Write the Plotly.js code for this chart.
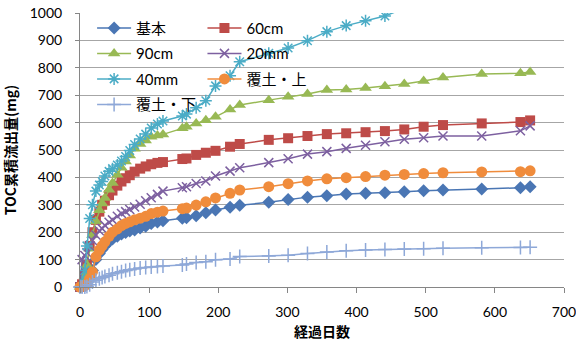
<!DOCTYPE html>
<html><head><meta charset="utf-8">
<script src="https://cdn.plot.ly/plotly-3.0.1.min.js"></script>
<style>html,body{margin:0;padding:0;background:#fff}#chart{width:576px;height:347px}</style>
</head><body><div id="chart"></div>
<script>
const days = [0, 3, 7, 10, 14, 18, 23, 28, 32, 36, 42, 47, 54, 60, 66, 72, 79, 87, 95, 103, 112, 120, 148, 154, 168, 182, 196, 217, 231, 273, 301, 329, 357, 385, 413, 441, 469, 497, 525, 581, 637, 651];
const seriesNames = ['基本', '60cm', '90cm', '20mm', '40mm', '覆土・上', '覆土・下'];
const kihon = [0,2,5,15,35, 60,100,122,137,150, 165,175,185,193,199, 204,208,215,222,232, 237,242, 251,253,260,271,281, 291,298, 309,319,328,333,339, 342,344,348,351,354, 358,362,366];
const cm60 = [0,10,40,80,150, 200,245,275,300,315, 335,352,370,385,397, 408,421,432,440,448, 453,456, 467,469,482,490,497, 512,522, 537,543,551,558,561, 565,569,575,585,591, 597,602,608];
const cm90 = [0,10,40,80,140, 190,240,280,305,325, 355,380,410,435,458, 480,505,522,535,548, 553,557, 579,585,597,609,621, 648,664, 682,694,704,719,721, 726,733,741,752,765, 777,780,785];
const mm20 = [0,100,115,125,150, 170,190,205,213,225, 236,245,258,268,275, 283,292,302,315,326, 338,350, 362,366,378,387,405, 423,435, 454,468,485,494,506, 517,530,539,545,551, 551,570,588];
const mm40 = [0,20,60,150,250, 300,350,372,385,405, 422,432,445,460,476, 498,520,540,558,580, 595,606, 624,631,654,680,734, 771,822, 853,872,899,932,954, 972,989,1017,1030,1045, 1065,1080,1085];
const fukuUe = [0,2,5,12,30, 55,110,135,150,165, 185,200,212,224,232, 238,245,251,258,268, 273,277, 286,288,299,311,325, 342,354, 366,377,387,395,399, 403,408,411,414,417, 420,421,424];
const fukuShita = [0,0,0,2,8, 18,25,30,35,38, 43,48,52,56,60, 63,66,69,71,73, 75,77, 80,84,89,92,99, 102,111, 113,116,122,128,132, 135,137,139,140,141, 143,144,145];

const values = [kihon, cm60, cm90, mm20, mm40, fukuUe, fukuShita];
const colors = ['#4A76B4', '#BE4B48', '#98B954', '#7D60A0', '#4BACC6', '#F08C3C', '#8EA8D8'];
const symbols = ['diamond', 'square', 'triangle-up', 'x-thin-open', 'asterisk-open', 'circle', 'cross-thin-open'];
const sizes = [10, 10, 11, 9, 10, 11, 10];
const legendOf = ['legend', 'legend2', 'legend', 'legend2', 'legend', 'legend2', 'legend'];
const jpFont = "Lato, 'Noto Sans CJK JP', sans-serif";
const boldFont = "'Noto Sans CJK JP', sans-serif";

const traces = seriesNames.map((nm, i) => ({
  type: 'scatter', mode: 'lines+markers', name: nm, x: days, y: values[i],
  legend: legendOf[i], legendgroup: 'g' + i,
  cliponaxis: i === 4,
  line: {color: colors[i], width: 1.5},
  marker: {symbol: symbols[i], size: sizes[i], color: colors[i],
           line: {color: colors[i], width: symbols[i].indexOf('open') >= 0 ? 1.5 : 0}}
}));

const legendBase = {
  xanchor: 'left', yanchor: 'top', y: 1.005, bgcolor: 'rgba(0,0,0,0)', borderwidth: 0,
  font: {size: 15, family: jpFont, color: '#000'}, itemwidth: 34,
  traceorder: 'grouped', tracegroupgap: 3
};

const layout = {
  width: 576, height: 347,
  margin: {l: 80, r: 12, t: 13, b: 60},
  paper_bgcolor: '#fff', plot_bgcolor: '#fff',
  font: {family: jpFont, color: '#000'},
  showlegend: true,
  legend: Object.assign({}, legendBase, {x: 0.025}),
  legend2: Object.assign({}, legendBase, {x: 0.253}),
  xaxis: {
    range: [0, 700], dtick: 100, tick0: 0, showgrid: false, zeroline: false,
    showline: true, linecolor: '#868686', linewidth: 1,
    ticks: 'outside', ticklen: 5, tickcolor: '#868686', ticklabelstandoff: 7,
    ticklabeloverflow: 'allow',
    tickfont: {size: 14, family: jpFont, color: '#000'},
    title: {text: '経過日数', font: {size: 14, family: boldFont, weight: 'bold', color: '#000'}, standoff: 8}
  },
  yaxis: {
    range: [0, 1000], dtick: 100, tick0: 0, showgrid: true, gridcolor: '#A6A6A6', gridwidth: 1,
    zeroline: false, showline: true, linecolor: '#868686', linewidth: 1,
    ticks: 'outside', ticklen: 4, tickcolor: '#868686', ticklabelstandoff: 10,
    ticklabeloverflow: 'allow',
    tickfont: {size: 14, family: jpFont, color: '#000'},
    title: {text: 'TOC累積流出量(mg)', font: {size: 14, family: boldFont, weight: 'bold', color: '#000'}, standoff: 10}
  }
};

Plotly.newPlot('chart', traces, layout, {staticPlot: true, displayModeBar: false});
</script>
</body></html>
